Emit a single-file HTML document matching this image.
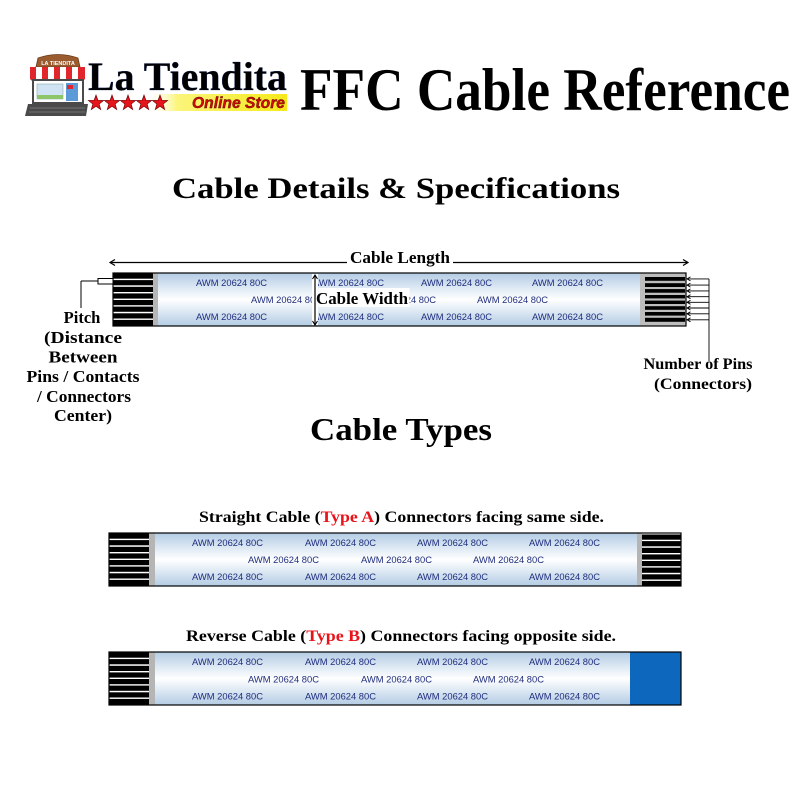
<!DOCTYPE html>
<html>
<head>
<meta charset="utf-8">
<style>
  html,body{margin:0;padding:0;background:#fff;}
  svg{display:block;}
  .h{font-family:"Liberation Serif",serif;font-weight:bold;fill:#000;}
  .awm{font-family:"Liberation Sans",sans-serif;font-size:9.5px;fill:#1f2d7e;}
</style>
</head>
<body>
<svg width="800" height="800" viewBox="0 0 800 800" xmlns="http://www.w3.org/2000/svg">
  <defs>
    <linearGradient id="cab" x1="0" y1="0" x2="0" y2="1">
      <stop offset="0" stop-color="#b3cce4"/>
      <stop offset="0.5" stop-color="#ffffff"/>
      <stop offset="1" stop-color="#b3cce4"/>
    </linearGradient>
    <linearGradient id="navy" x1="0" y1="0" x2="0" y2="1">
      <stop offset="0" stop-color="#2f63c0"/>
      <stop offset="1" stop-color="#0c2a70"/>
    </linearGradient>
    <linearGradient id="yel" x1="0" y1="0" x2="1" y2="0">
      <stop offset="0" stop-color="#fffbd0" stop-opacity="0"/>
      <stop offset="0.2" stop-color="#fbf57a"/>
      <stop offset="1" stop-color="#f6ea1a"/>
    </linearGradient>
    <clipPath id="mainL"><rect x="158" y="273" width="154" height="53"/></clipPath>
    <clipPath id="mainR"><rect x="318" y="273" width="322" height="53"/></clipPath>
    <clipPath id="cA"><rect x="155" y="533" width="482" height="53"/></clipPath>
    <clipPath id="cB"><rect x="155" y="652" width="475" height="53"/></clipPath>
  </defs>
  <rect width="800" height="800" fill="#fff"/>

  <!-- ===== LOGO ===== -->
  <g>
    <path d="M36 67 L38 58 Q58 51 78 58 L80 67 Z" fill="#9a5b2e" stroke="#6b3a18" stroke-width="0.8"/>
    <text x="58" y="65" font-family="Liberation Sans, sans-serif" font-size="5.5" font-weight="bold" fill="#fff" text-anchor="middle">LA TIENDITA</text>
    <rect x="30" y="67" width="55" height="12" fill="#fff"/>
    <g fill="#e0262c">
      <rect x="30" y="67" width="6" height="12"/>
      <rect x="42" y="67" width="6" height="12"/>
      <rect x="54" y="67" width="6" height="12"/>
      <rect x="66" y="67" width="6" height="12"/>
      <rect x="78" y="67" width="7" height="12"/>
    </g>
    <path d="M30 79 q3 4 6 0 q3 4 6 0 q3 4 6 0 q3 4 6 0 q3 4 6 0 q3 4 6 0 q3 4 6 0 q3 4 6 0 q3 4 7 0" fill="#e0262c"/>
    <rect x="33" y="80" width="50" height="23" fill="#fff" stroke="#4a4a4a" stroke-width="2"/>
    <rect x="37" y="84" width="26" height="15" fill="#cfe3f5" stroke="#8aa" stroke-width="0.6"/>
    <rect x="37" y="95" width="26" height="4" fill="#8cc56a"/>
    <rect x="66" y="83" width="12" height="18" fill="#5b9ad8"/>
    <rect x="67" y="85" width="6" height="4" fill="#e0262c"/>
    <path d="M28 104 L88 104 L86 116 L25 116 Z" fill="#4a4a4a"/>
    <g stroke="#9a9a9a" stroke-width="0.6">
      <line x1="30" y1="108" x2="85" y2="108"/>
      <line x1="29" y1="112" x2="85" y2="112"/>
    </g>
    <text x="88" y="90" class="h" font-size="40" textLength="199" lengthAdjust="spacingAndGlyphs" fill="url(#navy)" stroke="#0a1f5a" stroke-width="0.3">La Tiendita</text>
    <rect x="150" y="94" width="137" height="17" fill="url(#yel)"/>
    <text x="192" y="108" font-family="Liberation Sans, sans-serif" font-size="15.5" font-weight="bold" font-style="italic" fill="#d10a0a" stroke="#5a0000" stroke-width="0.4" textLength="93" lengthAdjust="spacingAndGlyphs">Online Store</text>
    <g fill="#e8141b" stroke="#7a0000" stroke-width="0.7">
      <path transform="translate(96,103)" d="M0,-8 L1.9,-2.6 L7.6,-2.5 L3.1,1 L4.7,6.5 L0,3.2 L-4.7,6.5 L-3.1,1 L-7.6,-2.5 L-1.9,-2.6 Z"/>
      <path transform="translate(112,103)" d="M0,-8 L1.9,-2.6 L7.6,-2.5 L3.1,1 L4.7,6.5 L0,3.2 L-4.7,6.5 L-3.1,1 L-7.6,-2.5 L-1.9,-2.6 Z"/>
      <path transform="translate(128,103)" d="M0,-8 L1.9,-2.6 L7.6,-2.5 L3.1,1 L4.7,6.5 L0,3.2 L-4.7,6.5 L-3.1,1 L-7.6,-2.5 L-1.9,-2.6 Z"/>
      <path transform="translate(144,103)" d="M0,-8 L1.9,-2.6 L7.6,-2.5 L3.1,1 L4.7,6.5 L0,3.2 L-4.7,6.5 L-3.1,1 L-7.6,-2.5 L-1.9,-2.6 Z"/>
      <path transform="translate(160,103)" d="M0,-8 L1.9,-2.6 L7.6,-2.5 L3.1,1 L4.7,6.5 L0,3.2 L-4.7,6.5 L-3.1,1 L-7.6,-2.5 L-1.9,-2.6 Z"/>
    </g>
  </g>

  <!-- ===== TITLES ===== -->
  <text x="300" y="110" class="h" font-size="60" textLength="490" lengthAdjust="spacingAndGlyphs">FFC Cable Reference</text>
  <text x="172" y="198" class="h" font-size="30" textLength="448" lengthAdjust="spacingAndGlyphs">Cable Details &amp; Specifications</text>
  <text x="310" y="440" class="h" font-size="32" textLength="182" lengthAdjust="spacingAndGlyphs">Cable Types</text>

  <!-- ===== MAIN CABLE ===== -->
  <line x1="110" y1="262.5" x2="347" y2="262.5" stroke="#000" stroke-width="1.2"/>
  <line x1="453" y1="262.5" x2="688" y2="262.5" stroke="#000" stroke-width="1.2"/>
  <path d="M115 259.5 L110 262.5 L115 265.5" fill="none" stroke="#000" stroke-width="1.2"/>
  <path d="M683 259.5 L688 262.5 L683 265.5" fill="none" stroke="#000" stroke-width="1.2"/>
  <text x="350" y="263" class="h" font-size="16.5" textLength="100" lengthAdjust="spacingAndGlyphs">Cable Length</text>

  <rect x="158" y="273" width="482" height="53" fill="url(#cab)"/>
  <g clip-path="url(#mainL)">
    <text class="awm" x="196" y="286" textLength="71" lengthAdjust="spacingAndGlyphs">AWM 20624 80C</text>
    <text class="awm" x="251" y="303" textLength="71" lengthAdjust="spacingAndGlyphs">AWM 20624 80C</text>
    <text class="awm" x="196" y="320" textLength="71" lengthAdjust="spacingAndGlyphs">AWM 20624 80C</text>
  </g>
  <g clip-path="url(#mainR)">
    <text class="awm" x="313" y="286" textLength="71" lengthAdjust="spacingAndGlyphs">AWM 20624 80C</text>
    <text class="awm" x="421" y="286" textLength="71" lengthAdjust="spacingAndGlyphs">AWM 20624 80C</text>
    <text class="awm" x="532" y="286" textLength="71" lengthAdjust="spacingAndGlyphs">AWM 20624 80C</text>
    <text class="awm" x="365" y="303" textLength="71" lengthAdjust="spacingAndGlyphs">AWM 20624 80C</text>
    <text class="awm" x="477" y="303" textLength="71" lengthAdjust="spacingAndGlyphs">AWM 20624 80C</text>
    <text class="awm" x="313" y="320" textLength="71" lengthAdjust="spacingAndGlyphs">AWM 20624 80C</text>
    <text class="awm" x="421" y="320" textLength="71" lengthAdjust="spacingAndGlyphs">AWM 20624 80C</text>
    <text class="awm" x="532" y="320" textLength="71" lengthAdjust="spacingAndGlyphs">AWM 20624 80C</text>
  </g>
  <rect x="312" y="274" width="6" height="51" fill="#fff"/>

  <rect x="113" y="273" width="40" height="53" fill="#fff"/>
  <g fill="#000">
    <rect x="113" y="273.5" width="40" height="5.2"/>
    <rect x="113" y="280.1" width="40" height="5.2"/>
    <rect x="113" y="286.8" width="40" height="5.2"/>
    <rect x="113" y="293.4" width="40" height="5.2"/>
    <rect x="113" y="300" width="40" height="5.2"/>
    <rect x="113" y="306.6" width="40" height="5.2"/>
    <rect x="113" y="313.3" width="40" height="5.2"/>
    <rect x="113" y="319.9" width="40" height="5.6"/>
  </g>
  <rect x="153" y="273" width="5" height="53" fill="#b5b5b5"/>

  <rect x="640" y="273" width="46" height="53" fill="#bdbdbd"/>
  <g fill="#000">
    <rect x="645" y="277" width="40" height="3.8"/>
    <rect x="645" y="283.2" width="40" height="3.8"/>
    <rect x="645" y="289.1" width="40" height="3.6"/>
    <rect x="645" y="295" width="40" height="3.4"/>
    <rect x="645" y="300.6" width="40" height="3.4"/>
    <rect x="645" y="306.2" width="40" height="3.6"/>
    <rect x="645" y="312" width="40" height="3.6"/>
    <rect x="645" y="317.8" width="40" height="4"/>
  </g>
  <rect x="113" y="273" width="573" height="53" fill="none" stroke="#000" stroke-width="1.2"/>

  <rect x="318.5" y="288" width="91" height="19" fill="#fff"/>
  <text x="316" y="304" class="h" font-size="17" textLength="92" lengthAdjust="spacingAndGlyphs">Cable Width</text>
  <line x1="315" y1="275" x2="315" y2="325" stroke="#000" stroke-width="1.2"/>
  <path d="M312.5 279 L315 275 L317.5 279" fill="none" stroke="#000" stroke-width="1.1"/>
  <path d="M312.5 321 L315 325 L317.5 321" fill="none" stroke="#000" stroke-width="1.1"/>

  <g stroke="#000" stroke-width="0.9" fill="none">
    <line x1="709" y1="278.9" x2="709" y2="361"/>
    <line x1="687" y1="278.9" x2="709" y2="278.9"/>
    <line x1="687" y1="285.1" x2="709" y2="285.1"/>
    <line x1="687" y1="290.9" x2="709" y2="290.9"/>
    <line x1="687" y1="296.7" x2="709" y2="296.7"/>
    <line x1="687" y1="302.3" x2="709" y2="302.3"/>
    <line x1="687" y1="308" x2="709" y2="308"/>
    <line x1="687" y1="313.8" x2="709" y2="313.8"/>
    <line x1="687" y1="319.8" x2="709" y2="319.8"/>
    <path d="M690.5 276.9 L687 278.9 L690.5 280.9"/>
    <path d="M690.5 283.1 L687 285.1 L690.5 287.1"/>
    <path d="M690.5 288.9 L687 290.9 L690.5 292.9"/>
    <path d="M690.5 294.7 L687 296.7 L690.5 298.7"/>
    <path d="M690.5 300.3 L687 302.3 L690.5 304.3"/>
    <path d="M690.5 306 L687 308 L690.5 310"/>
    <path d="M690.5 311.8 L687 313.8 L690.5 315.8"/>
    <path d="M690.5 317.8 L687 319.8 L690.5 321.8"/>
  </g>
  <text x="698" y="369" class="h" font-size="16" text-anchor="middle" textLength="109" lengthAdjust="spacingAndGlyphs">Number of Pins</text>
  <text x="703" y="389" class="h" font-size="16" text-anchor="middle" textLength="98" lengthAdjust="spacingAndGlyphs">(Connectors)</text>

  <g stroke="#000" stroke-width="1" fill="none">
    <line x1="81" y1="281" x2="98" y2="281"/>
    <line x1="81" y1="281" x2="81" y2="308"/>
    <rect x="98" y="278.5" width="15" height="5.5" fill="#fff"/>
  </g>
  <g class="h" font-size="16.5" text-anchor="middle">
    <text x="82" y="323">Pitch</text>
    <text x="83" y="343" textLength="78" lengthAdjust="spacingAndGlyphs">(Distance</text>
    <text x="83" y="362.5" textLength="69" lengthAdjust="spacingAndGlyphs">Between</text>
    <text x="83" y="382" textLength="113" lengthAdjust="spacingAndGlyphs">Pins / Contacts</text>
    <text x="84" y="402" textLength="94" lengthAdjust="spacingAndGlyphs">/ Connectors</text>
    <text x="83" y="421" textLength="58" lengthAdjust="spacingAndGlyphs">Center)</text>
  </g>

  <!-- ===== TYPE A ===== -->
  <text x="199" y="522" class="h" font-size="16" textLength="405" lengthAdjust="spacingAndGlyphs">Straight Cable (<tspan fill="#e8141b">Type A</tspan>) Connectors facing same side.</text>
  <rect x="155" y="533" width="482" height="53" fill="url(#cab)"/>
  <g clip-path="url(#cA)">
    <text class="awm" x="192" y="546" textLength="71" lengthAdjust="spacingAndGlyphs">AWM 20624 80C</text>
    <text class="awm" x="305" y="546" textLength="71" lengthAdjust="spacingAndGlyphs">AWM 20624 80C</text>
    <text class="awm" x="417" y="546" textLength="71" lengthAdjust="spacingAndGlyphs">AWM 20624 80C</text>
    <text class="awm" x="529" y="546" textLength="71" lengthAdjust="spacingAndGlyphs">AWM 20624 80C</text>
    <text class="awm" x="248" y="563" textLength="71" lengthAdjust="spacingAndGlyphs">AWM 20624 80C</text>
    <text class="awm" x="361" y="563" textLength="71" lengthAdjust="spacingAndGlyphs">AWM 20624 80C</text>
    <text class="awm" x="473" y="563" textLength="71" lengthAdjust="spacingAndGlyphs">AWM 20624 80C</text>
    <text class="awm" x="192" y="580" textLength="71" lengthAdjust="spacingAndGlyphs">AWM 20624 80C</text>
    <text class="awm" x="305" y="580" textLength="71" lengthAdjust="spacingAndGlyphs">AWM 20624 80C</text>
    <text class="awm" x="417" y="580" textLength="71" lengthAdjust="spacingAndGlyphs">AWM 20624 80C</text>
    <text class="awm" x="529" y="580" textLength="71" lengthAdjust="spacingAndGlyphs">AWM 20624 80C</text>
  </g>
  <rect x="109" y="533" width="40" height="53" fill="#fff"/>
  <g fill="#000">
    <rect x="109" y="533.5" width="40" height="5.2"/>
    <rect x="109" y="540.1" width="40" height="5.2"/>
    <rect x="109" y="546.8" width="40" height="5.2"/>
    <rect x="109" y="553.4" width="40" height="5.2"/>
    <rect x="109" y="560" width="40" height="5.2"/>
    <rect x="109" y="566.6" width="40" height="5.2"/>
    <rect x="109" y="573.3" width="40" height="5.2"/>
    <rect x="109" y="579.9" width="40" height="5.6"/>
  </g>
  <rect x="149" y="533" width="6" height="53" fill="#b5b5b5"/>
  <rect x="642" y="533" width="39" height="53" fill="#fff"/>
  <g fill="#000">
    <rect x="642" y="534.5" width="39" height="5.2"/>
    <rect x="642" y="541.1" width="39" height="5.2"/>
    <rect x="642" y="547.8" width="39" height="5.2"/>
    <rect x="642" y="554.4" width="39" height="5.2"/>
    <rect x="642" y="561" width="39" height="5.2"/>
    <rect x="642" y="567.6" width="39" height="5.2"/>
    <rect x="642" y="574.3" width="39" height="5.2"/>
    <rect x="642" y="580.9" width="39" height="4.6"/>
  </g>
  <rect x="637" y="533" width="5" height="53" fill="#b5b5b5"/>
  <rect x="109" y="533" width="572" height="53" fill="none" stroke="#000" stroke-width="1.2"/>

  <!-- ===== TYPE B ===== -->
  <text x="186" y="641" class="h" font-size="16" textLength="430" lengthAdjust="spacingAndGlyphs">Reverse Cable (<tspan fill="#e8141b">Type B</tspan>) Connectors facing opposite side.</text>
  <rect x="155" y="652" width="475" height="53" fill="url(#cab)"/>
  <g clip-path="url(#cB)">
    <text class="awm" x="192" y="665" textLength="71" lengthAdjust="spacingAndGlyphs">AWM 20624 80C</text>
    <text class="awm" x="305" y="665" textLength="71" lengthAdjust="spacingAndGlyphs">AWM 20624 80C</text>
    <text class="awm" x="417" y="665" textLength="71" lengthAdjust="spacingAndGlyphs">AWM 20624 80C</text>
    <text class="awm" x="529" y="665" textLength="71" lengthAdjust="spacingAndGlyphs">AWM 20624 80C</text>
    <text class="awm" x="248" y="682.5" textLength="71" lengthAdjust="spacingAndGlyphs">AWM 20624 80C</text>
    <text class="awm" x="361" y="682.5" textLength="71" lengthAdjust="spacingAndGlyphs">AWM 20624 80C</text>
    <text class="awm" x="473" y="682.5" textLength="71" lengthAdjust="spacingAndGlyphs">AWM 20624 80C</text>
    <text class="awm" x="192" y="699.5" textLength="71" lengthAdjust="spacingAndGlyphs">AWM 20624 80C</text>
    <text class="awm" x="305" y="699.5" textLength="71" lengthAdjust="spacingAndGlyphs">AWM 20624 80C</text>
    <text class="awm" x="417" y="699.5" textLength="71" lengthAdjust="spacingAndGlyphs">AWM 20624 80C</text>
    <text class="awm" x="529" y="699.5" textLength="71" lengthAdjust="spacingAndGlyphs">AWM 20624 80C</text>
  </g>
  <rect x="109" y="652" width="40" height="53" fill="#fff"/>
  <g fill="#000">
    <rect x="109" y="652.5" width="40" height="5.2"/>
    <rect x="109" y="659.1" width="40" height="5.2"/>
    <rect x="109" y="665.8" width="40" height="5.2"/>
    <rect x="109" y="672.4" width="40" height="5.2"/>
    <rect x="109" y="679" width="40" height="5.2"/>
    <rect x="109" y="685.6" width="40" height="5.2"/>
    <rect x="109" y="692.3" width="40" height="5.2"/>
    <rect x="109" y="698.9" width="40" height="5.6"/>
  </g>
  <rect x="149" y="652" width="6" height="53" fill="#b5b5b5"/>
  <rect x="630" y="652" width="51" height="53" fill="#0d68bd"/>
  <rect x="109" y="652" width="572" height="53" fill="none" stroke="#000" stroke-width="1.2"/>
</svg>
</body>
</html>
